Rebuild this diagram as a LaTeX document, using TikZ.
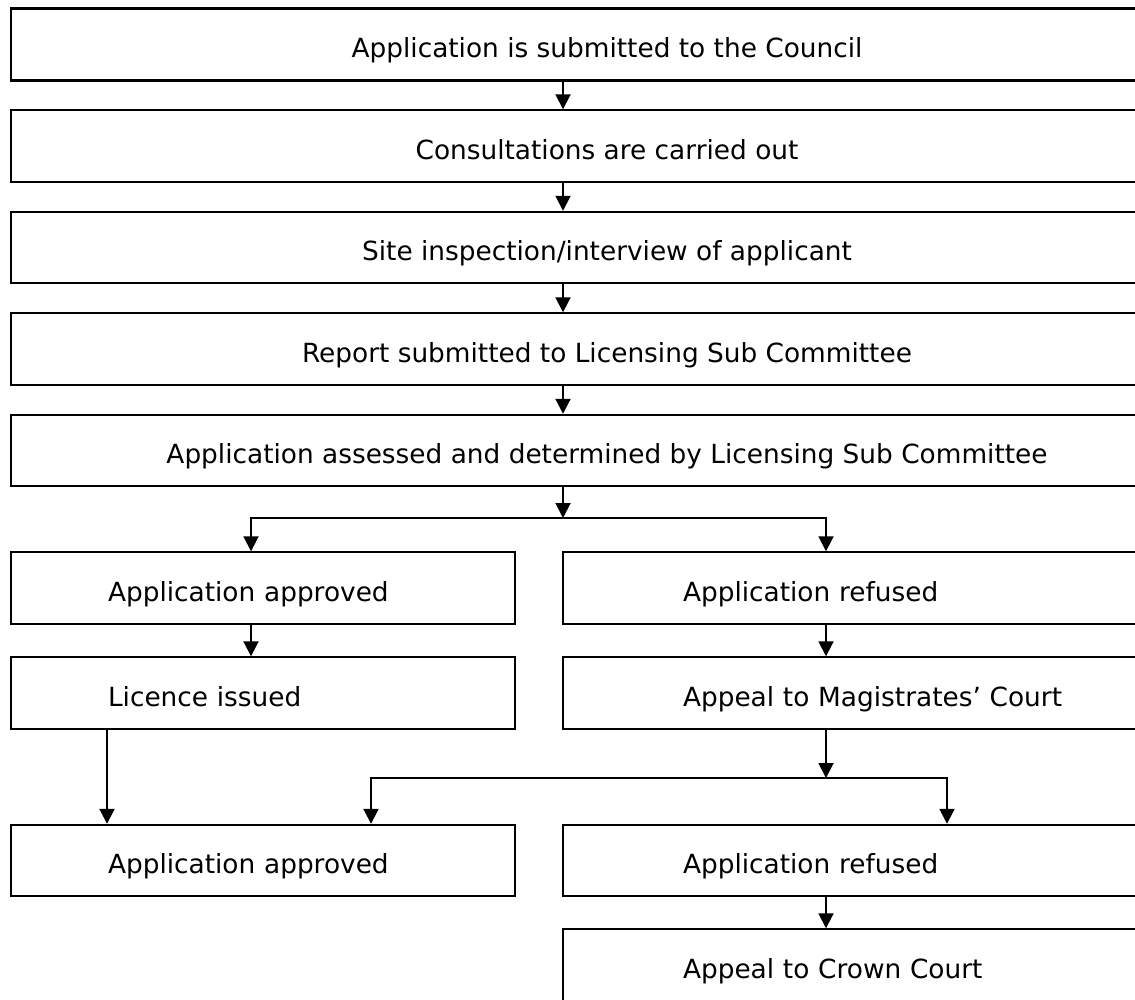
\documentclass[tikz,border=0pt]{standalone}
\usepackage{fontspec}
\setmainfont{DejaVu Sans}
\usepackage{tikz}
\usetikzlibrary{arrows.meta}

\begin{document}
\begin{tikzpicture}[
    font=\fontsize{15}{18}\selectfont,
    every node/.style={text height=15pt, text depth=0pt},
    stage/.style={draw, line width=1.1pt, minimum width=23.84cm, minimum height=1.43cm},
    okbox/.style={draw, line width=1.1pt, minimum height=1.43cm, inner xsep=1.94cm, text width=6.2cm, align=left},
    nobox/.style={draw, line width=1.1pt, minimum height=1.43cm, inner xsep=2.4cm, text width=8.8cm, align=left},
    flow/.style={line width=1.1pt, -{Triangle[length=0.3cm,width=0.3cm]}}
]
\clip (0,0) rectangle (22.7,-19.98);

% main column
\node[stage, line width=1.6pt] (submit) at (12.14,-0.89) {Application is submitted to the Council};
\node[stage] (consult) at (12.14,-2.92) {Consultations are carried out};
\node[stage] (inspect) at (12.14,-4.95) {Site inspection/interview of applicant};
\node[stage] (report) at (12.14,-6.98) {Report submitted to Licensing Sub Committee};
\node[stage] (assess) at (12.14,-9.01) {Application assessed and determined by Licensing Sub Committee};

% two branches
\node[okbox] (ok1) at (5.26,-11.76) {Application approved};
\node[okbox] (ok2) at (5.26,-13.86) {Licence issued};
\node[okbox] (ok3) at (5.26,-17.21) {Application approved};
\node[nobox] (no1) at (18.06,-11.76) {Application refused};
\node[nobox] (no2) at (18.06,-13.86) {Appeal to Magistrates’ Court};
\node[nobox] (no3) at (18.06,-17.21) {Application refused};
\node[nobox] (no4) at (18.06,-19.3) {Appeal to Crown Court};

\coordinate (mid) at (11.26,0);
\coordinate (lx) at (5.02,0);
\coordinate (rx) at (16.52,0);
\coordinate (lx2) at (7.42,0);
\coordinate (rx2) at (18.94,0);
\coordinate (lx3) at (2.14,0);
\coordinate (j1) at (11.26,-10.36);
\coordinate (j2) at (16.52,-15.56);

\draw[flow] (submit.south -| mid) -- (consult.north -| mid);
\draw[flow] (consult.south -| mid) -- (inspect.north -| mid);
\draw[flow] (inspect.south -| mid) -- (report.north -| mid);
\draw[flow] (report.south -| mid) -- (assess.north -| mid);
\draw[flow] (assess.south -| mid) -- (j1);
\draw[flow] (j1) -| (ok1.north -| lx);
\draw[flow] (j1) -| (no1.north -| rx);

\draw[flow] (ok1.south -| lx) -- (ok2.north -| lx);
\draw[flow] (no1.south -| rx) -- (no2.north -| rx);
\draw[flow] (no2.south -| rx) -- (j2);
\draw[flow] (j2) -| (ok3.north -| lx2);
\draw[flow] (j2) -| (no3.north -| rx2);
\draw[flow] (ok2.south -| lx3) -- (ok3.north -| lx3);
\draw[flow] (no3.south -| rx) -- (no4.north -| rx);
\end{tikzpicture}
\end{document}
